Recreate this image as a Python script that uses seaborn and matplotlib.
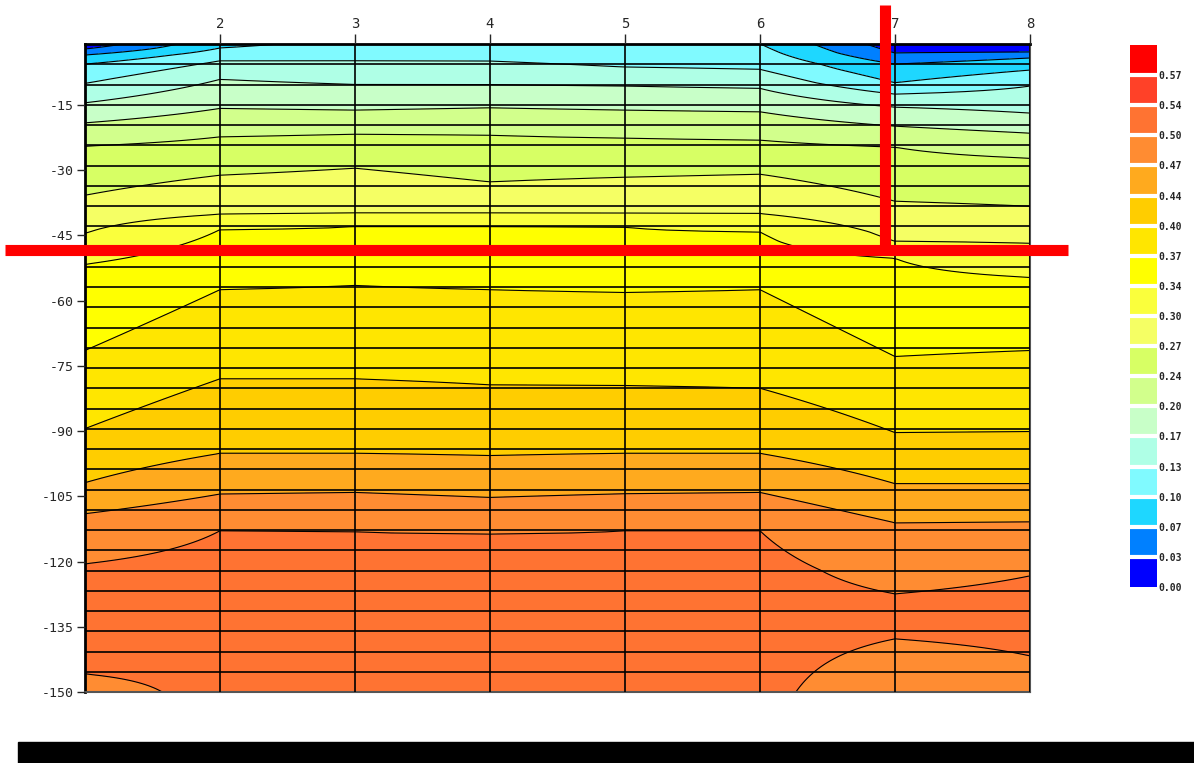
import numpy as np
import matplotlib
matplotlib.use("Agg")
import matplotlib.pyplot as plt
from matplotlib.patches import Rectangle
from matplotlib.ticker import FixedLocator
import seaborn as sns

# stations along the section (x axis)
stations = [1, 2, 3, 4, 5, 6, 7, 8]

# depth (m) and value knots for each station
st1_depth = [-1, -2.15, -3.53, -5.61, -10.05, -14.52, -19.13, -24.49, -35.78, -44.53,
             -51.67, -71.47, -89.44, -101.87, -109.01, -120.53, -133.65, -145.85, -150]
st1_value = [0.01, 0.0335, 0.0671, 0.1006, 0.1341, 0.1676, 0.2012, 0.2347, 0.2682, 0.3018,
             0.3353, 0.3688, 0.4024, 0.4359, 0.4694, 0.5029, 0.52, 0.5029, 0.48]

st2_depth = [-1, -1.92, -4.85, -9.13, -15.81, -22.35, -31.17, -40.15, -43.68, -57.49,
             -77.99, -95.13, -104.48, -112.93, -122, -150]
st2_value = [0.093, 0.1006, 0.1341, 0.1676, 0.2012, 0.2347, 0.2682, 0.3018, 0.3353, 0.3688,
             0.4024, 0.4359, 0.4694, 0.5029, 0.515, 0.52]

st3_depth = [-1, -4.85, -10.30, -16.20, -21.73, -29.56, -39.85, -42.92, -56.50,
             -77.99, -95.13, -104.11, -113.16, -122, -150]
st3_value = [0.11, 0.1341, 0.1676, 0.2012, 0.2347, 0.2682, 0.3018, 0.3353, 0.3688,
             0.4024, 0.4359, 0.4694, 0.5029, 0.515, 0.52]

st4_depth = [-1, -4.92, -10.33, -15.67, -21.96, -32.71, -39.85, -42.92, -57.49,
             -79.37, -95.66, -105.26, -113.69, -122.5, -150]
st4_value = [0.11, 0.1341, 0.1676, 0.2012, 0.2347, 0.2682, 0.3018, 0.3353, 0.3688,
             0.4024, 0.4359, 0.4694, 0.5029, 0.515, 0.52]

st5_depth = [-1, -6.30, -10.67, -16.20, -22.65, -31.63, -39.92, -43.08, -58.12,
             -79.54, -95.13, -104.41, -112.93, -122, -150]
st5_value = [0.105, 0.1341, 0.1676, 0.2012, 0.2347, 0.2682, 0.3018, 0.3353, 0.3688,
             0.4024, 0.4359, 0.4694, 0.5029, 0.515, 0.52]

st6_depth = [-1, -6.83, -11.20, -16.59, -23.11, -30.94, -39.99, -44.23, -57.49,
             -80.16, -95.13, -104.11, -112.93, -122, -135, -150]
st6_value = [0.101, 0.1341, 0.1676, 0.2012, 0.2347, 0.2682, 0.3018, 0.3353, 0.3688,
             0.4024, 0.4359, 0.4694, 0.5029, 0.512, 0.518, 0.513]

st7_depth = [-1, -3.07, -5.61, -9.91, -12.52, -15.51, -19.89, -24.72, -37.16, -46.37,
             -50.29, -72.86, -90.36, -102.10, -111.09, -127.44, -132.5, -137.78, -150]
st7_value = [0.015, 0.0335, 0.0671, 0.1006, 0.1341, 0.1676, 0.2012, 0.2347, 0.2682, 0.3018,
             0.3353, 0.3688, 0.4024, 0.4359, 0.4694, 0.5029, 0.51, 0.5029, 0.475]

st8_depth = [-1, -2.84, -4.22, -6.99, -10.67, -16.89, -21.50, -27.26, -38.31, -46.83,
             -54.66, -71.47, -90.13, -102.10, -110.86, -123.29, -132.5, -141.70, -150]
st8_value = [0.0, 0.0335, 0.0671, 0.1006, 0.1341, 0.1676, 0.2012, 0.2347, 0.2682, 0.3018,
             0.3353, 0.3688, 0.4024, 0.4359, 0.4694, 0.5029, 0.515, 0.5029, 0.49]

# class boundaries and colours of the legend
levels = [0.0, 0.0335, 0.0671, 0.1006, 0.1341, 0.1676, 0.2012, 0.2347, 0.2682, 0.3018,
          0.3353, 0.3688, 0.4024, 0.4359, 0.4694, 0.5029, 0.5365, 0.57, 0.6035]
cbar_labels = ["0.00", "0.03", "0.07", "0.10", "0.13", "0.17", "0.20", "0.24", "0.27",
               "0.30", "0.34", "0.37", "0.40", "0.44", "0.47", "0.50", "0.54", "0.57"]
band_colors = ["#0000ff", "#0080ff", "#1ed7ff", "#80faff", "#afffe6", "#c8ffc8",
               "#d2ff8c", "#d7ff64", "#f5ff64", "#faff3c", "#ffff00", "#ffe600",
               "#ffcd00", "#ffaa1e", "#ff8c32", "#ff7332", "#ff4128", "#ff0000"]

depth_ticks = [-15, -30, -45, -60, -75, -90, -105, -120, -135, -150]

# crosshair marker (station, depth)
mark_station = 6.926
mark_depth = -48.4

sns.set_style("white")
plt.rcParams['font.family'] = ['DejaVu Sans Mono', 'DejaVu Sans']
plt.rcParams['axes.unicode_minus'] = False

W, H = 1194, 763
fig = plt.figure(figsize=(W / 100, H / 100), dpi=100)
ax = fig.add_axes([85 / W, 1 - 692 / H, 945 / W, 648 / H])

profiles = [(st1_depth, st1_value), (st2_depth, st2_value), (st3_depth, st3_value),
            (st4_depth, st4_value), (st5_depth, st5_value), (st6_depth, st6_value),
            (st7_depth, st7_value), (st8_depth, st8_value)]

# rendering grid in depth, each station profile follows its knots
depth_grid = np.linspace(-1, -150, 600)
Z = np.column_stack([np.interp(-depth_grid, -np.asarray(d), np.asarray(v)) for d, v in profiles])

pal = sns.color_palette(band_colors)
cf = ax.contourf(stations, depth_grid, Z, levels=levels, colors=pal)
ax.contour(stations, depth_grid, Z, levels=levels[1:17], colors='black', linewidths=0.8)

ax.set_xlim(1, 8)
ax.set_ylim(-150, -1)
ax.set_xticks(stations[1:])
ax.set_yticks(depth_ticks)
ax.xaxis.tick_top()
ax.yaxis.set_minor_locator(FixedLocator(np.linspace(-1, -150, 33)))
ax.set_axisbelow(False)
ax.grid(True, axis='x', which='major', color='black', linewidth=1.2)
ax.grid(True, axis='y', which='minor', color='black', linewidth=1.2)
ax.grid(False, axis='y', which='major')
ax.tick_params(axis='x', top=True, bottom=False, length=7, width=1, labelsize=10, pad=2)
ax.tick_params(axis='y', left=True, length=6, width=1, labelsize=9.5, pad=2)
ax.tick_params(axis='y', which='minor', length=0)

for side in ['left', 'top']:
    ax.spines[side].set_color('black')
    ax.spines[side].set_linewidth(2)
for side in ['right', 'bottom']:
    ax.spines[side].set_color('#555555')
    ax.spines[side].set_linewidth(1.5)

# red crosshair
ax.plot([0.41, 8.28], [mark_depth, mark_depth], color='red', lw=8,
        solid_capstyle='butt', clip_on=False, zorder=6)
ax.plot([mark_station, mark_station], [7.98, mark_depth - 1.2], color='red', lw=8,
        solid_capstyle='butt', clip_on=False, zorder=6)

# colour legend
cax = fig.add_axes([1130 / W, 1 - 587 / H, 27 / W, 542 / H])
cb = fig.colorbar(cf, cax=cax, ticks=levels[:-1], drawedges=True)
cb.set_ticklabels(cbar_labels)
cb.outline.set_visible(False)
cb.dividers.set_color('white')
cb.dividers.set_linewidth(3)
cax.tick_params(length=0, labelsize=7, pad=1)
for t in cax.get_yticklabels():
    t.set_fontweight('bold')

# black strip at the bottom
fig.add_artist(Rectangle((18 / W, 0), 1 - 18 / W, 21 / H, transform=fig.transFigure,
                         color='black'))

fig.savefig('out.png', dpi=100)
